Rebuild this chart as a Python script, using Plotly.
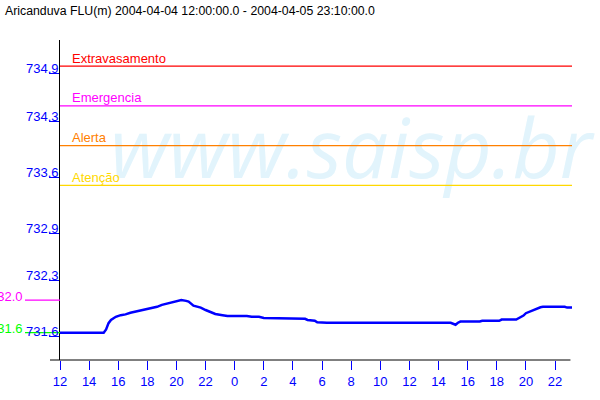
import plotly.graph_objects as go

# ---- data ----
times = [
    "2004-04-04 12:00", "2004-04-04 15:00", "2004-04-04 15:10", "2004-04-04 15:20",
    "2004-04-04 15:30", "2004-04-04 15:40", "2004-04-04 15:50", "2004-04-04 16:10",
    "2004-04-04 16:30", "2004-04-04 16:50", "2004-04-04 17:20", "2004-04-04 17:50",
    "2004-04-04 18:20", "2004-04-04 18:40", "2004-04-04 19:00", "2004-04-04 19:30",
    "2004-04-04 19:50", "2004-04-04 20:20", "2004-04-04 20:40", "2004-04-04 20:50",
    "2004-04-04 21:10", "2004-04-04 21:40", "2004-04-04 22:00", "2004-04-04 22:20",
    "2004-04-04 22:40", "2004-04-04 23:10", "2004-04-04 23:30", "2004-04-05 00:20",
    "2004-04-05 00:50", "2004-04-05 01:10", "2004-04-05 01:40", "2004-04-05 02:00",
    "2004-04-05 03:30", "2004-04-05 04:50", "2004-04-05 05:00", "2004-04-05 05:30",
    "2004-04-05 05:40", "2004-04-05 06:20", "2004-04-05 14:50", "2004-04-05 15:00",
    "2004-04-05 15:10", "2004-04-05 15:20", "2004-04-05 15:30", "2004-04-05 16:50",
    "2004-04-05 17:00", "2004-04-05 18:10", "2004-04-05 18:20", "2004-04-05 19:20",
    "2004-04-05 19:30", "2004-04-05 19:50", "2004-04-05 20:00", "2004-04-05 20:20",
    "2004-04-05 20:40", "2004-04-05 21:00", "2004-04-05 21:10", "2004-04-05 22:40",
    "2004-04-05 22:50", "2004-04-05 23:10",
]
levels = [
    731.65, 731.65, 731.69, 731.77,
    731.81, 731.83, 731.85, 731.87,
    731.88, 731.90, 731.92, 731.935,
    731.955, 731.975, 732.00, 732.02,
    732.04, 732.06, 732.05, 732.04,
    731.99, 731.965, 731.935, 731.905,
    731.885, 731.87, 731.86, 731.86,
    731.86, 731.85, 731.85, 731.835,
    731.825, 731.825, 731.81, 731.80,
    731.78, 731.775, 731.775, 731.765,
    731.75, 731.775, 731.79, 731.79,
    731.80, 731.80, 731.815, 731.815,
    731.83, 731.865, 731.895, 731.92,
    731.95, 731.97, 731.975, 731.975,
    731.965, 731.965,
]

alarm_names = ["Extravasamento", "Emergencia", "Alerta", "Atenção"]
alarm_levels = [735.0, 734.5, 734.0, 733.5]
alarm_colors = ["#ff0000", "#ff00ff", "#ff8000", "#ffd800"]

ref_labels = ["732.0", "731.6"]
ref_levels = [732.06, 731.65]
ref_colors = ["#ff00ff", "#00ff00"]

y_ticks = [731.6, 732.3, 732.9, 733.6, 734.3, 734.9]
y_ticktext = ["731.6", "732.3", "732.9", "733.6", "734.3", "734.9"]

x_ticks = [
    "2004-04-04 12:00", "2004-04-04 14:00", "2004-04-04 16:00", "2004-04-04 18:00",
    "2004-04-04 20:00", "2004-04-04 22:00", "2004-04-05 00:00", "2004-04-05 02:00",
    "2004-04-05 04:00", "2004-04-05 06:00", "2004-04-05 08:00", "2004-04-05 10:00",
    "2004-04-05 12:00", "2004-04-05 14:00", "2004-04-05 16:00", "2004-04-05 18:00",
    "2004-04-05 20:00", "2004-04-05 22:00",
]
x_ticktext = ["12", "14", "16", "18", "20", "22", "0", "2", "4", "6", "8",
              "10", "12", "14", "16", "18", "20", "22"]

title_text = "Aricanduva FLU(m) 2004-04-04 12:00:00.0 - 2004-04-05 23:10:00.0"
x_range = ["2004-04-04 12:00", "2004-04-05 23:10"]
y_range = [731.307, 735.327]

FONT = "Liberation Sans"
BLUE = "#0000ff"

fig = go.Figure()

# watermark (drawn first so it sits behind everything)
fig.add_trace(go.Scatter(
    x=["2004-04-05 08:00"], y=[733.85], mode="text", text=["www.saisp.br"],
    textfont=dict(family="Open Sans", size=82, color="#e2f4fc", style="italic"),
    cliponaxis=False, hoverinfo="skip", showlegend=False,
))

fig.add_trace(go.Scatter(
    x=times, y=levels, mode="lines",
    line=dict(color=BLUE, width=2.5),
    showlegend=False,
))

shapes = []
annotations = []
for name, lv, col in zip(alarm_names, alarm_levels, alarm_colors):
    shapes.append(dict(type="line", xref="paper", x0=0, x1=1, yref="y", y0=lv, y1=lv,
                       line=dict(color=col, width=1.3)))
    annotations.append(dict(xref="paper", x=10 / 512, xanchor="left", yref="y", y=lv,
                            yanchor="bottom", yshift=-1.5, text=name, showarrow=False,
                            font=dict(family=FONT, size=13, color=col)))

for lab, lv, col in zip(ref_labels, ref_levels, ref_colors):
    shapes.append(dict(type="line", xref="paper", x0=-35 / 512, x1=0, yref="y", y0=lv, y1=lv,
                       line=dict(color=col, width=1.3)))
    annotations.append(dict(xref="paper", x=-35 / 512, xanchor="right", yref="y", y=lv,
                            yanchor="bottom", yshift=-5.5, text=lab, showarrow=False,
                            font=dict(family=FONT, size=13, color=col)))

for tv, tt in zip(y_ticks, y_ticktext):
    annotations.append(dict(xref="paper", x=0, xanchor="right", yref="y", y=tv,
                            yanchor="middle", yshift=5, xshift=1, text=tt, showarrow=False,
                            font=dict(family=FONT, size=13, color=BLUE)))

# x axis baseline extending slightly left of the y axis
shapes.append(dict(type="line", xref="paper", x0=-10 / 512, x1=0.997, yref="paper", y0=0, y1=0,
                   line=dict(color="black", width=1)))

fig.update_layout(
    width=600, height=400,
    margin=dict(l=60, r=28, t=40, b=40),
    paper_bgcolor="white", plot_bgcolor="white",
    title=dict(text=title_text, x=5 / 600, xanchor="left", xref="container",
               y=1 - 11 / 400, yref="container", yanchor="middle",
               font=dict(family=FONT, size=12.3, color="black")),
    shapes=shapes, annotations=annotations,
    xaxis=dict(type="date", range=x_range, showgrid=False, zeroline=False, showline=False,
               tickmode="array", tickvals=x_ticks, ticktext=x_ticktext,
               ticks="outside", ticklen=9, tickcolor=BLUE, tickwidth=1,
               tickfont=dict(family=FONT, size=13, color=BLUE)),
    yaxis=dict(range=y_range, showgrid=False, zeroline=False, showline=True,
               linecolor="black", linewidth=1,
               tickmode="array", tickvals=y_ticks, ticktext=y_ticktext, showticklabels=False,
               ticks="outside", ticklen=10, tickcolor=BLUE, tickwidth=1),
)

fig.write_html("out.html", config={"displayModeBar": False},
               post_script="document.body.style.margin='0';")
